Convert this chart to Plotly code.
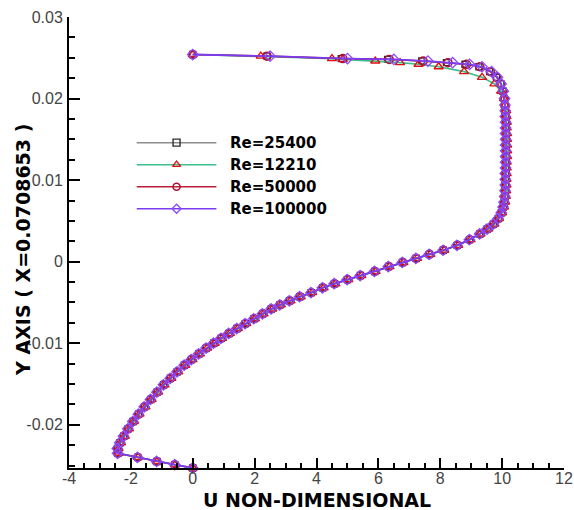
import plotly.graph_objects as go

# ---------------- data ----------------
SERIES_NAMES = ["Re=25400", "Re=12210", "Re=50000", "Re=100000"]

Y_POS = [0.0254, 0.0252, 0.0249, 0.0248, 0.0246, 0.0244, 0.0242, 0.0239, 0.0233, 0.0226,
         0.0218, 0.0209, 0.0200, 0.0192,
         0.0185, 0.0178, 0.0171, 0.0164, 0.0157, 0.0150, 0.0143, 0.0136, 0.0129, 0.0122,
         0.0115, 0.0108, 0.0101, 0.0094, 0.0087, 0.0080, 0.0073, 0.0067,
         0.0060, 0.0053, 0.0046, 0.0040, 0.0034, 0.0027, 0.0020, 0.0014, 0.0009, 0.0004,
         -0.0001, -0.0006, -0.0012, -0.0017, -0.0022, -0.0027, -0.0032, -0.0038, -0.0043, -0.0048,
         -0.0053, -0.0058, -0.0064, -0.0070, -0.0076, -0.0082, -0.0088, -0.0094, -0.0100, -0.0106,
         -0.0113, -0.0120, -0.0127, -0.0135, -0.0143, -0.0151, -0.0160, -0.0169, -0.0178, -0.0187,
         -0.0196, -0.0205, -0.0214, -0.0222, -0.0229, -0.0235, -0.0240, -0.0245, -0.0249, -0.0253]

U_RE25400 = [0.00, 2.40, 4.80, 6.30, 7.40, 8.20, 8.80, 9.25, 9.60, 9.82,
             9.96, 10.03, 10.07, 10.09,
             10.10, 10.11, 10.12, 10.12, 10.13, 10.13, 10.13, 10.13, 10.13, 10.12,
             10.12, 10.12, 10.11, 10.11, 10.10, 10.09, 10.07, 10.04,
             9.98, 9.88, 9.72, 9.52, 9.28, 8.95, 8.55, 8.10, 7.65, 7.22,
             6.78, 6.33, 5.88, 5.42, 5.00, 4.58, 4.20, 3.83, 3.46, 3.13,
             2.82, 2.54, 2.26, 1.98, 1.70, 1.43, 1.17, 0.92, 0.68, 0.44,
             0.20, -0.04, -0.27, -0.50, -0.72, -0.94, -1.15, -1.36, -1.56, -1.75,
             -1.93, -2.09, -2.23, -2.35, -2.43, -2.42, -1.78, -1.16, -0.58, 0.00]

U_RE12210 = [0.00, 2.20, 4.50, 4.85, 5.90, 6.70, 7.30, 7.95, 8.77, 9.35,
             9.75, 9.97, 10.06, 10.10,
             10.13, 10.14, 10.15, 10.15, 10.16, 10.16, 10.16, 10.16, 10.16, 10.15,
             10.15, 10.15, 10.14, 10.14, 10.13, 10.12, 10.10, 10.06,
             10.00, 9.90, 9.75, 9.55, 9.30, 8.98, 8.58, 8.13, 7.68, 7.25,
             6.81, 6.36, 5.91, 5.45, 5.03, 4.61, 4.23, 3.86, 3.49, 3.16,
             2.85, 2.57, 2.29, 2.01, 1.73, 1.46, 1.20, 0.95, 0.71, 0.47,
             0.23, -0.01, -0.24, -0.47, -0.69, -0.91, -1.12, -1.33, -1.53, -1.72,
             -1.90, -2.06, -2.20, -2.32, -2.40, -2.40, -1.77, -1.16, -0.58, 0.00]

U_RE50000 = [0.00, 2.40, 4.85, 6.35, 7.45, 8.25, 8.85, 9.28, 9.62, 9.83,
             9.96, 10.03, 10.07, 10.09,
             10.10, 10.11, 10.12, 10.12, 10.12, 10.12, 10.12, 10.12, 10.12, 10.12,
             10.12, 10.11, 10.11, 10.10, 10.10, 10.09, 10.07, 10.04,
             9.98, 9.88, 9.72, 9.52, 9.28, 8.95, 8.55, 8.10, 7.65, 7.22,
             6.78, 6.33, 5.88, 5.42, 5.00, 4.58, 4.20, 3.83, 3.46, 3.13,
             2.82, 2.54, 2.26, 1.98, 1.70, 1.43, 1.17, 0.92, 0.68, 0.44,
             0.20, -0.04, -0.27, -0.50, -0.72, -0.94, -1.15, -1.36, -1.56, -1.75,
             -1.93, -2.09, -2.23, -2.35, -2.43, -2.42, -1.78, -1.16, -0.58, 0.00]

U_RE100000 = [0.00, 2.50, 5.00, 6.50, 7.60, 8.40, 8.95, 9.35, 9.66, 9.85,
              9.97, 10.04, 10.08, 10.09,
              10.10, 10.10, 10.11, 10.11, 10.11, 10.11, 10.11, 10.11, 10.11, 10.11,
              10.11, 10.10, 10.10, 10.10, 10.09, 10.08, 10.06, 10.03,
              9.97, 9.87, 9.71, 9.51, 9.27, 8.94, 8.54, 8.09, 7.64, 7.21,
              6.77, 6.32, 5.87, 5.41, 4.99, 4.57, 4.19, 3.82, 3.45, 3.12,
              2.81, 2.53, 2.25, 1.97, 1.69, 1.42, 1.16, 0.91, 0.67, 0.43,
              0.19, -0.05, -0.28, -0.51, -0.73, -0.95, -1.16, -1.37, -1.57, -1.76,
              -1.94, -2.10, -2.24, -2.36, -2.44, -2.43, -1.79, -1.17, -0.58, 0.00]

X_TICKS = [-4, -2, 0, 2, 4, 6, 8, 10, 12]
X_TICK_TEXT = ["-4", "-2", "0", "2", "4", "6", "8", "10", "12"]
Y_TICKS = [-0.02, -0.01, 0, 0.01, 0.02, 0.03]
Y_TICK_TEXT = ["-0.02", "-0.01", "0", "0.01", "0.02", "0.03"]

X_TITLE = "U NON-DIMENSIONAL"
Y_TITLE = "Y AXIS ( X=0.0708653 )"

# ---------------- styles ----------------
STYLES = [
    dict(line=dict(color="#8c8c8c", width=1.2),
         marker=dict(symbol="square-open", size=6, color="#303030", line=dict(width=1.4))),
    dict(line=dict(color="#3cbf8c", width=1.6),
         marker=dict(symbol="triangle-up-open", size=8, color="#e01010", line=dict(width=1.4))),
    dict(line=dict(color="#b8203a", width=1.6),
         marker=dict(symbol="circle-open", size=8, color="#b01030", line=dict(width=1.5))),
    dict(line=dict(color="#7a3cf0", width=1.8),
         marker=dict(symbol="diamond-open", size=8, color="#8a4cff", line=dict(width=1.3))),
]

U_SERIES = [U_RE25400, U_RE12210, U_RE50000, U_RE100000]

fig = go.Figure()
for name, u, st in zip(SERIES_NAMES, U_SERIES, STYLES):
    fig.add_trace(go.Scatter(x=u, y=Y_POS, mode="lines+markers", name=name,
                             line=st["line"], marker=st["marker"],
                             cliponaxis=False, showlegend=False))

# ---------------- custom legend (long Tecplot-style samples) ----------------
LEG_ROWS = [0.7214, 0.6726, 0.6238, 0.5749]
LEG_X = [0.1368, 0.2173, 0.2978]
for name, st, row in zip(SERIES_NAMES, STYLES, LEG_ROWS):
    m = dict(st["marker"])
    m["opacity"] = [0, 1, 0]
    m["size"] = 7
    fig.add_trace(go.Scatter(x=LEG_X, y=[row] * 3, mode="lines+markers",
                             line=dict(color=st["line"]["color"], width=1.5), marker=m,
                             xaxis="x2", yaxis="y2", showlegend=False, hoverinfo="skip"))
    fig.add_annotation(x=0.322, y=row, xref="x2", yref="y2", text="<b>%s</b>" % name,
                       showarrow=False, xanchor="left", yanchor="middle",
                       font=dict(family="DejaVu Sans", size=15, color="black"))

# axis titles
fig.add_annotation(x=0.5, y=-0.071, xref="paper", yref="paper", text="<b>%s</b>" % X_TITLE,
                   showarrow=False, xanchor="center", yanchor="middle",
                   font=dict(family="DejaVu Sans", size=19, color="black"))
fig.add_annotation(x=-0.0926, y=0.484, xref="paper", yref="paper", text="<b>%s</b>" % Y_TITLE,
                   showarrow=False, xanchor="center", yanchor="middle", textangle=-90,
                   font=dict(family="DejaVu Sans", size=19, color="black"))

tickfont = dict(family="Liberation Sans, Arial", size=16, color="#444444")
fig.update_layout(
    width=574, height=510,
    margin=dict(l=69, r=10, t=17, b=42, autoexpand=False),
    paper_bgcolor="white", plot_bgcolor="white",
    showlegend=False,
    xaxis=dict(range=[-4, 12], tickvals=X_TICKS, ticktext=X_TICK_TEXT,
               ticks="inside", ticklen=10, tickwidth=2, tickcolor="black",
               minor=dict(ticks="inside", ticklen=5, tickwidth=1.5, tickcolor="black", dtick=0.5,
                          tick0=0, showgrid=False),
               showline=True, linewidth=2, linecolor="black", showgrid=False, zeroline=False,
               tickfont=tickfont, ticklabelstandoff=-5),
    yaxis=dict(range=[-0.0253, 0.03], tickvals=Y_TICKS, ticktext=Y_TICK_TEXT,
               ticks="inside", ticklen=11, tickwidth=2, tickcolor="black",
               minor=dict(ticks="inside", ticklen=6, tickwidth=1.5, tickcolor="black", dtick=0.0025,
                          tick0=0, showgrid=False),
               showline=True, linewidth=2, linecolor="black", showgrid=False, zeroline=False,
               tickfont=tickfont, ticklabelstandoff=1),
    xaxis2=dict(overlaying="x", range=[0, 1], visible=False, anchor="y2"),
    yaxis2=dict(overlaying="y", range=[0, 1], visible=False, anchor="x2"),
)

fig.write_html("out.html")
